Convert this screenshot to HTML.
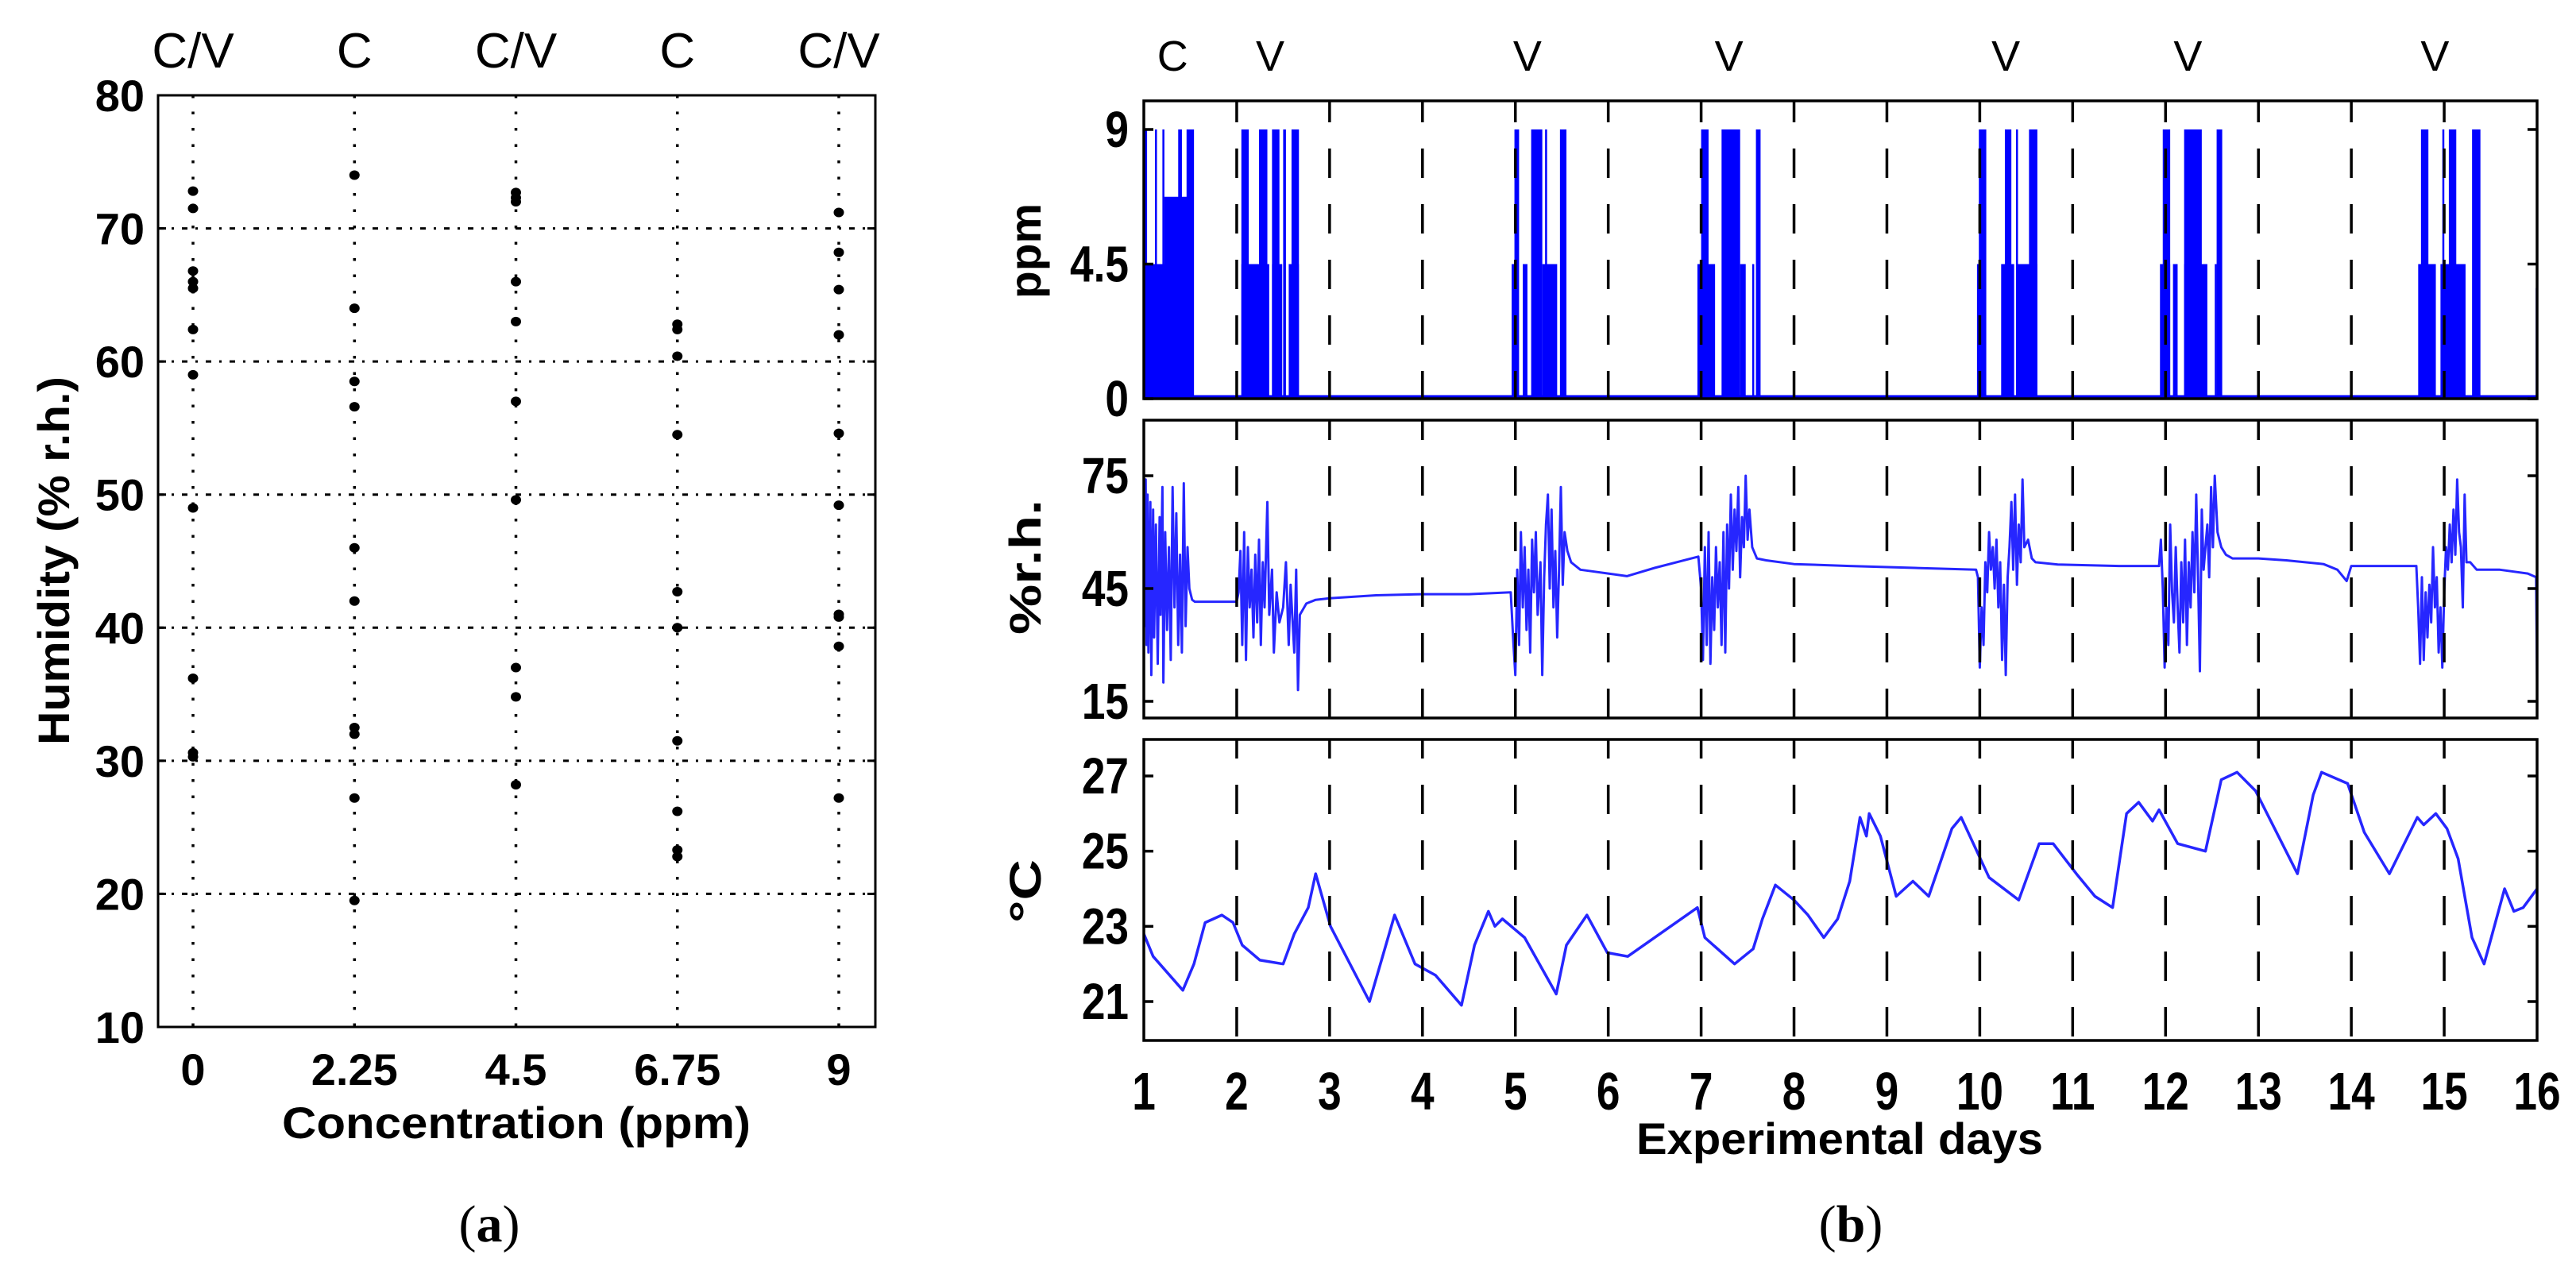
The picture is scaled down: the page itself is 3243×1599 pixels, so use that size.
<!DOCTYPE html>
<html><head><meta charset="utf-8">
<style>
html,body{margin:0;padding:0;background:#fff;}
svg{display:block;}
text{font-family:"Liberation Sans",Arial,sans-serif;}
text.serif{font-family:"Liberation Serif",serif;}
</style></head>
<body>
<svg id="fig" width="3243" height="1599" viewBox="0 0 3243 1599" xmlns="http://www.w3.org/2000/svg">
<rect x="0" y="0" width="3243" height="1599" fill="#fff"/>
<g id="pa"></g>
<g id="pb"></g>
</svg>
<script>
// ---------- Panel (a) data ----------
const concCategories = [0, 2.25, 4.5, 6.75, 9];
const concTickLabels = ["0", "2.25", "4.5", "6.75", "9"];
const concTopLabels = ["C/V", "C", "C/V", "C", "C/V"];
const humTicks = [10, 20, 30, 40, 50, 60, 70, 80];
const hum0 = [72.8, 71.5, 66.8, 66, 65.5, 62.4, 59, 49, 36.2, 30.6, 30.3];
const hum225 = [74, 64, 58.5, 56.6, 46, 42, 32.5, 32, 27.2, 19.5];
const hum45 = [72.7, 72.3, 72, 66, 63, 57, 49.6, 37, 34.8, 28.2];
const hum675 = [62.8, 62.4, 60.4, 54.5, 42.7, 40, 31.5, 26.2, 23.3, 22.8];
const hum9 = [71.2, 68.2, 65.4, 62, 54.6, 49.2, 41, 40.8, 38.6, 27.2];

// ---------- Panel (b) data ----------
const dayTicks = [1,2,3,4,5,6,7,8,9,10,11,12,13,14,15,16];
const eventDays = [1.31, 2.36, 5.13, 7.30, 10.28, 12.24, 14.9];
const eventLabels = ["C","V","V","V","V","V","V"];
const ppmTicks = [0, 4.5, 9];
const ppmTickLabels = ["0", "4.5", "9"];
// ppm pulses: [start day, end day, ppm]
const ppmBlocks = [
 [1.0,1.34,4.5],[1.0,1.035,9],[1.0,1.28,2.25],[1.12,1.14,9],[1.2,1.22,9],[1.22,1.47,6.75],[1.37,1.41,9],[1.46,1.54,9],
 [2.05,2.13,9],[2.05,2.35,4.5],[2.24,2.33,9],[2.38,2.46,9],[2.38,2.49,4.5],[2.5,2.53,9],[2.59,2.67,9],[2.56,2.67,4.5],
 [4.96,5.02,4.5],[4.99,5.04,9],[5.08,5.13,4.5],[5.17,5.29,9],[5.29,5.31,4.5],[5.32,5.34,9],[5.31,5.45,4.5],[5.48,5.55,9],
 [6.96,7.02,4.5],[7.0,7.08,9],[7.0,7.15,4.5],[7.22,7.42,9],[7.42,7.48,4.5],[7.55,7.57,4.5],[7.59,7.64,9],
 [9.97,10.06,4.5],[9.99,10.07,9],[10.23,10.37,4.5],[10.27,10.34,9],[10.39,10.41,9],[10.41,10.62,4.5],[10.53,10.62,9],
 [11.94,12.05,4.5],[11.97,12.05,9],[12.08,12.13,4.5],[12.2,12.45,4.5],[12.2,12.39,9],[12.53,12.55,4.5],[12.55,12.61,9],
 [14.72,14.91,4.5],[14.75,14.83,9],[14.96,15.23,4.5],[14.98,15.0,9],[15.05,15.13,9],[15.3,15.39,9],
 [15.985,16.0,3.7]
];
const rhTicks = [15, 45, 75];
const rhDays = [1.0,1.01,1.02,1.03,1.04,1.05,1.07,1.08,1.10,1.11,1.13,1.15,1.17,1.18,1.20,1.21,1.23,1.25,1.27,1.29,1.31,1.33,1.35,1.37,1.39,1.41,1.43,1.45,1.47,1.49,1.52,1.55,2.0,
 2.02,2.04,2.06,2.08,2.10,2.12,2.14,2.16,2.18,2.20,2.22,2.24,2.26,2.28,2.30,2.33,2.35,2.38,2.40,2.43,2.46,2.50,2.53,2.56,2.58,2.62,2.64,2.66,2.68,2.75,2.85,3.0,3.5,4.0,4.5,4.95,
 4.98,5.0,5.02,5.04,5.06,5.08,5.10,5.12,5.14,5.16,5.18,5.20,5.22,5.24,5.27,5.29,5.31,5.33,5.35,5.37,5.39,5.41,5.43,5.45,5.47,5.49,5.51,5.53,5.56,5.60,5.70,5.85,6.0,6.2,6.5,6.97,
 7.0,7.02,7.04,7.06,7.08,7.10,7.12,7.14,7.16,7.18,7.20,7.22,7.24,7.26,7.28,7.30,7.32,7.34,7.36,7.38,7.40,7.42,7.44,7.46,7.48,7.50,7.52,7.55,7.60,7.7,8.0,8.6,9.3,9.96,
 9.98,10.0,10.02,10.04,10.06,10.08,10.10,10.12,10.14,10.16,10.18,10.20,10.22,10.24,10.26,10.28,10.30,10.32,10.34,10.36,10.38,10.40,10.42,10.44,10.46,10.48,10.52,10.56,10.6,10.84,11.5,11.93,
 11.95,11.97,11.99,12.01,12.03,12.05,12.07,12.09,12.11,12.13,12.15,12.17,12.19,12.21,12.23,12.25,12.27,12.29,12.31,12.33,12.35,12.37,12.39,12.41,12.43,12.45,12.47,12.49,12.51,12.53,12.56,12.60,12.65,12.72,13.0,13.3,13.7,13.85,13.95,14.0,14.5,14.7,
 14.72,14.74,14.76,14.78,14.80,14.82,14.84,14.86,14.88,14.90,14.92,14.94,14.96,14.98,15.00,15.02,15.04,15.06,15.08,15.10,15.12,15.14,15.16,15.18,15.20,15.22,15.24,15.28,15.35,15.6,15.9,15.99,16.0];
const rhValues = [72,35,74,30,70,28,68,22,66,32,62,25,64,38,72,20,60,34,56,26,72,40,65,30,54,28,73,35,56,45,42,41.5,41.5,
 44,55,30,60,26,56,40,50,32,54,36,58,30,52,40,68,38,50,28,44,36,40,52,30,46,28,50,18,38,41,42,42.4,43.2,43.5,43.5,44,
 30,22,50,30,60,40,56,34,50,28,58,44,60,38,52,22,48,62,70,45,66,40,55,32,50,72,46,60,55,52,50,49.5,49,48.3,50.5,53.5,
 45,26,56,30,60,25,48,34,56,40,52,30,60,28,62,45,70,50,66,55,72,48,64,56,75,58,66,56,53,52.5,51.5,51,50.5,50,
 48,24,40,30,52,44,60,50,56,45,58,40,52,26,46,22,48,56,68,50,70,46,62,52,74,56,58,53,52,51.4,51,51,
 58,45,24,40,30,62,44,36,56,40,28,52,36,58,30,52,40,60,44,70,48,23,66,50,56,62,48,72,56,75,60,56,54,53,53,52.5,51.5,50,47,51,51,51,
 40,25,48,26,44,32,46,36,56,40,48,28,40,24,44,56,50,62,52,66,54,74,60,56,40,70,52,52,50,50,49,48,20];
const tTicks = [21, 23, 25, 27];
const tDays = [1.0,1.10,1.42,1.54,1.66,1.84,1.96,2.06,2.25,2.50,2.62,2.77,2.85,3.01,3.43,3.70,3.92,4.14,4.42,4.56,4.71,4.78,4.86,5.10,5.44,5.55,5.77,5.99,6.21,6.96,7.04,7.36,7.56,7.66,7.80,8.00,8.15,8.32,8.47,
 8.6,8.71,8.78,8.81,8.93,9.10,9.28,9.45,9.70,9.80,10.1,10.42,10.64,10.79,11.04,11.24,11.43,11.58,11.71,11.86,11.93,12.13,12.43,12.60,12.77,12.97,13.42,13.59,13.68,13.96,14.14,14.41,14.71,14.78,14.91,15.03,15.15,15.30,15.43,15.65,15.75,15.85,16.0];
const tValues = [22.8,22.2,21.3,22.0,23.1,23.3,23.1,22.5,22.1,22.0,22.8,23.5,24.4,23.0,21.0,23.3,22.0,21.7,20.9,22.5,23.4,23.0,23.2,22.7,21.2,22.5,23.3,22.3,22.2,23.5,22.7,22.0,22.4,23.2,24.1,23.7,23.3,22.7,23.2,
 24.2,25.9,25.4,26.0,25.4,23.8,24.2,23.8,25.6,25.9,24.3,23.7,25.2,25.2,24.4,23.8,23.5,26.0,26.3,25.8,26.1,25.2,25.0,26.9,27.1,26.6,24.4,26.5,27.1,26.8,25.5,24.4,25.9,25.7,26.0,25.6,24.8,22.7,22.0,24.0,23.4,23.5,24.0];

const NS = "http://www.w3.org/2000/svg";
function el(parent, tag, attrs){ const e=document.createElementNS(NS,tag); for(const k in attrs) e.setAttribute(k, attrs[k]); parent.appendChild(e); return e; }
function txt(parent, s, x, y, size, weight, anchor, extra){
  const t=el(parent,"text",Object.assign({x:x,y:y,"font-size":size,"font-weight":weight,"text-anchor":anchor,fill:"#000"},extra||{}));
  t.textContent=s; return t;
}

// ---------- Panel (a) ----------
const pa=document.getElementById("pa");
const aL=199, aR=1102, aT=120, aB=1293;
const xa = v => 243 + (v/9)*(1056-243);
const ya = v => aB - (v-10)/70*(aB-aT);
humTicks.slice(1,-1).forEach(h=>{
  const g=el(pa,"line",{x1:aL,x2:aR,y1:ya(h),y2:ya(h),stroke:"#000","stroke-width":3,"stroke-dasharray":"7 10 3 10"});
  
  
});
concCategories.forEach(c=>{
  const g=el(pa,"line",{x1:xa(c),x2:xa(c),y1:aT,y2:aB,stroke:"#000","stroke-width":3.5,"stroke-dasharray":"3.5 17"});
  
  
});
const fa=el(pa,"rect",{x:aL,y:aT,width:aR-aL,height:aB-aT,fill:"none",stroke:"#000","stroke-width":3});


[hum0,hum225,hum45,hum675,hum9].forEach((arr,i)=>{
  arr.forEach(v=>{
    const d=el(pa,"ellipse",{cx:xa(concCategories[i]),cy:ya(v),rx:6.5,ry:6,fill:"#000"});
    
    
  });
});
humTicks.forEach(h=>{
  el(pa,"line",{x1:aL,x2:aL+10,y1:ya(h),y2:ya(h),stroke:"#000","stroke-width":3});
  el(pa,"line",{x1:aR-10,x2:aR,y1:ya(h),y2:ya(h),stroke:"#000","stroke-width":3});
  const t=txt(pa,String(h),182,ya(h)+20,56,"bold","end");
  
  
});
concCategories.forEach((c,i)=>{
  const t=txt(pa,concTickLabels[i],xa(c),1366,56,"bold","middle");
  
  
  const t2=txt(pa,concTopLabels[i],xa(c),85,62,"normal","middle");
  
  
});
</script>
<script>
(function(){
const pa=document.getElementById("pa");
const NS="http://www.w3.org/2000/svg";
function T(s,x,y,size,w,extra,name){const t=document.createElementNS(NS,"text");t.setAttribute("x",x);t.setAttribute("y",y);t.setAttribute("font-size",size);t.setAttribute("font-weight",w);t.setAttribute("text-anchor","middle");for(const k in (extra||{}))t.setAttribute(k,extra[k]);t.textContent=s;pa.appendChild(t);return t;}
T("Concentration (ppm)",650,1433,56,"bold",{textLength:590,lengthAdjust:"spacingAndGlyphs"},"x-axis-title");
T("Humidity (% r.h.)",0,0,56,"bold",{transform:"translate(87,706) rotate(-90)",textLength:464,lengthAdjust:"spacingAndGlyphs"},"y-axis-title");
})();
</script>
<script>
// ---------- Panel (b) ----------
(function(){
const pb=document.getElementById("pb");
const NS="http://www.w3.org/2000/svg";
function el(parent, tag, attrs){ const e=document.createElementNS(NS,tag); for(const k in attrs) e.setAttribute(k, attrs[k]); parent.appendChild(e); return e; }
function txt(parent, s, x, y, size, weight, anchor, extra){
  const t=el(parent,"text",Object.assign({x:x,y:y,"font-size":size,"font-weight":weight,"text-anchor":anchor,fill:"#000"},extra||{}));
  t.textContent=s; return t;
}
const L=1440, R=3194;
const xd = d => L + (d-1)/15*(R-L);
const subs = [
  {name:"ppm", top:127, bot:502, y: v => 502 - v/9*(502-163), dashStart:117},
  {name:"rh", top:529, bot:904, y: v => 883 - (v-15)/60*(883-599), dashStart:517},
  {name:"temp", top:931, bot:1310, y: v => 1261 - (v-21)/6*(1261-977), dashStart:918}
];
subs.forEach((s,i)=>{
  const cp=el(pb,"clipPath",{id:"clip"+i});
  el(cp,"rect",{x:L,y:s.top,width:R-L,height:s.bot-s.top});
});
const gP=el(pb,"g",{"clip-path":"url(#clip0)"});
ppmBlocks.forEach(b=>{
  const s=subs[0];
  const r=el(gP,"rect",{x:xd(b[0]),y:s.y(b[2]),width:Math.max(2.5,xd(b[1])-xd(b[0])),height:s.y(0)-s.y(b[2]),fill:"#0000ff"});
  
  
});
const base=el(gP,"line",{x1:L,x2:R,y1:subs[0].y(0)-2,y2:subs[0].y(0)-2,stroke:"#0000ff","stroke-width":5});



const gR=el(pb,"g",{"clip-path":"url(#clip1)"});
let d=rhDays.map((dd,i)=>(i?"L":"M")+xd(dd).toFixed(1)+","+subs[1].y(rhValues[i]).toFixed(1)).join(" ");
const rl=el(gR,"path",{d:d,fill:"none",stroke:"#0000ff","stroke-width":3,"stroke-opacity":0.85,"stroke-linejoin":"round"});



const gT=el(pb,"g",{"clip-path":"url(#clip2)"});
d=tDays.map((dd,i)=>(i?"L":"M")+xd(dd).toFixed(1)+","+subs[2].y(tValues[i]).toFixed(1)).join(" ");
const tl=el(gT,"path",{d:d,fill:"none",stroke:"#0000ff","stroke-width":3.5,"stroke-opacity":0.85,"stroke-linejoin":"round"});



subs.forEach((s,i)=>{
  const g=el(pb,"g",{"clip-path":"url(#clip"+i+")"});
  dayTicks.slice(1,-1).forEach(dd=>{
    const ln=el(g,"line",{x1:xd(dd),x2:xd(dd),y1:s.dashStart,y2:s.bot,stroke:"#000","stroke-width":3.5,"stroke-dasharray":"37 33"});
    
    
  });
  const fr=el(pb,"rect",{x:L,y:s.top,width:R-L,height:s.bot-s.top,fill:"none",stroke:"#000","stroke-width":3.5});
  
  
});
function yt(si, vals, labels, name){
  const s=subs[si];
  vals.forEach((v,i)=>{
    el(pb,"line",{x1:L,x2:L+12,y1:s.y(v),y2:s.y(v),stroke:"#000","stroke-width":3.5});
    el(pb,"line",{x1:R-12,x2:R,y1:s.y(v),y2:s.y(v),stroke:"#000","stroke-width":3.5});
    const t=txt(pb,labels[i],0,0,56,"bold","end",{transform:"translate(1421,"+(s.y(v)+22)+") scale(0.95,1.15)"});
    
    
  });
}
yt(0, ppmTicks, ppmTickLabels, "ppm");
yt(1, rhTicks, rhTicks.map(String), "rh");
yt(2, tTicks, tTicks.map(String), "temp");
dayTicks.forEach(dd=>{
  const t=txt(pb,String(dd),0,0,56,"bold","middle",{transform:"translate("+xd(dd)+",1397) scale(0.95,1.2)"});
  
  
});
eventDays.forEach((dd,i)=>{
  const t=txt(pb,eventLabels[i],xd(dd),89,54,"normal","middle");
  
  
});
const at=[["ppm",316,120,"ppm-axis-title"],["%r.h.",714,170,"rh-axis-title"],["°C",1122,80,"temp-axis-title"]];
at.forEach(a=>{
  const t=txt(pb,a[0],0,0,56,"bold","middle",{transform:"translate(1310,"+a[1]+") rotate(-90)",textLength:a[2],lengthAdjust:"spacingAndGlyphs"});
  
  
});
const xt=txt(pb,"Experimental days",2316,1453,56,"bold","middle",{textLength:512,lengthAdjust:"spacingAndGlyphs"});


})();
</script>
<script>
// captions
(function(){
const svg=document.getElementById("fig");
const NS="http://www.w3.org/2000/svg";
[["a",616,"panel-a-caption"],["b",2330,"panel-b-caption"]].forEach(c=>{
  const t=document.createElementNS(NS,"text");
  t.setAttribute("x",c[1]); t.setAttribute("y",1563);
  t.setAttribute("font-size",66); t.setAttribute("text-anchor","middle");
  t.setAttribute("class","serif");
  
  
  t.appendChild(document.createTextNode("("));
  const b=document.createElementNS(NS,"tspan"); b.setAttribute("font-weight","bold"); b.textContent=c[0]; t.appendChild(b);
  t.appendChild(document.createTextNode(")"));
  svg.appendChild(t);
});
})();
</script>
</body></html>
